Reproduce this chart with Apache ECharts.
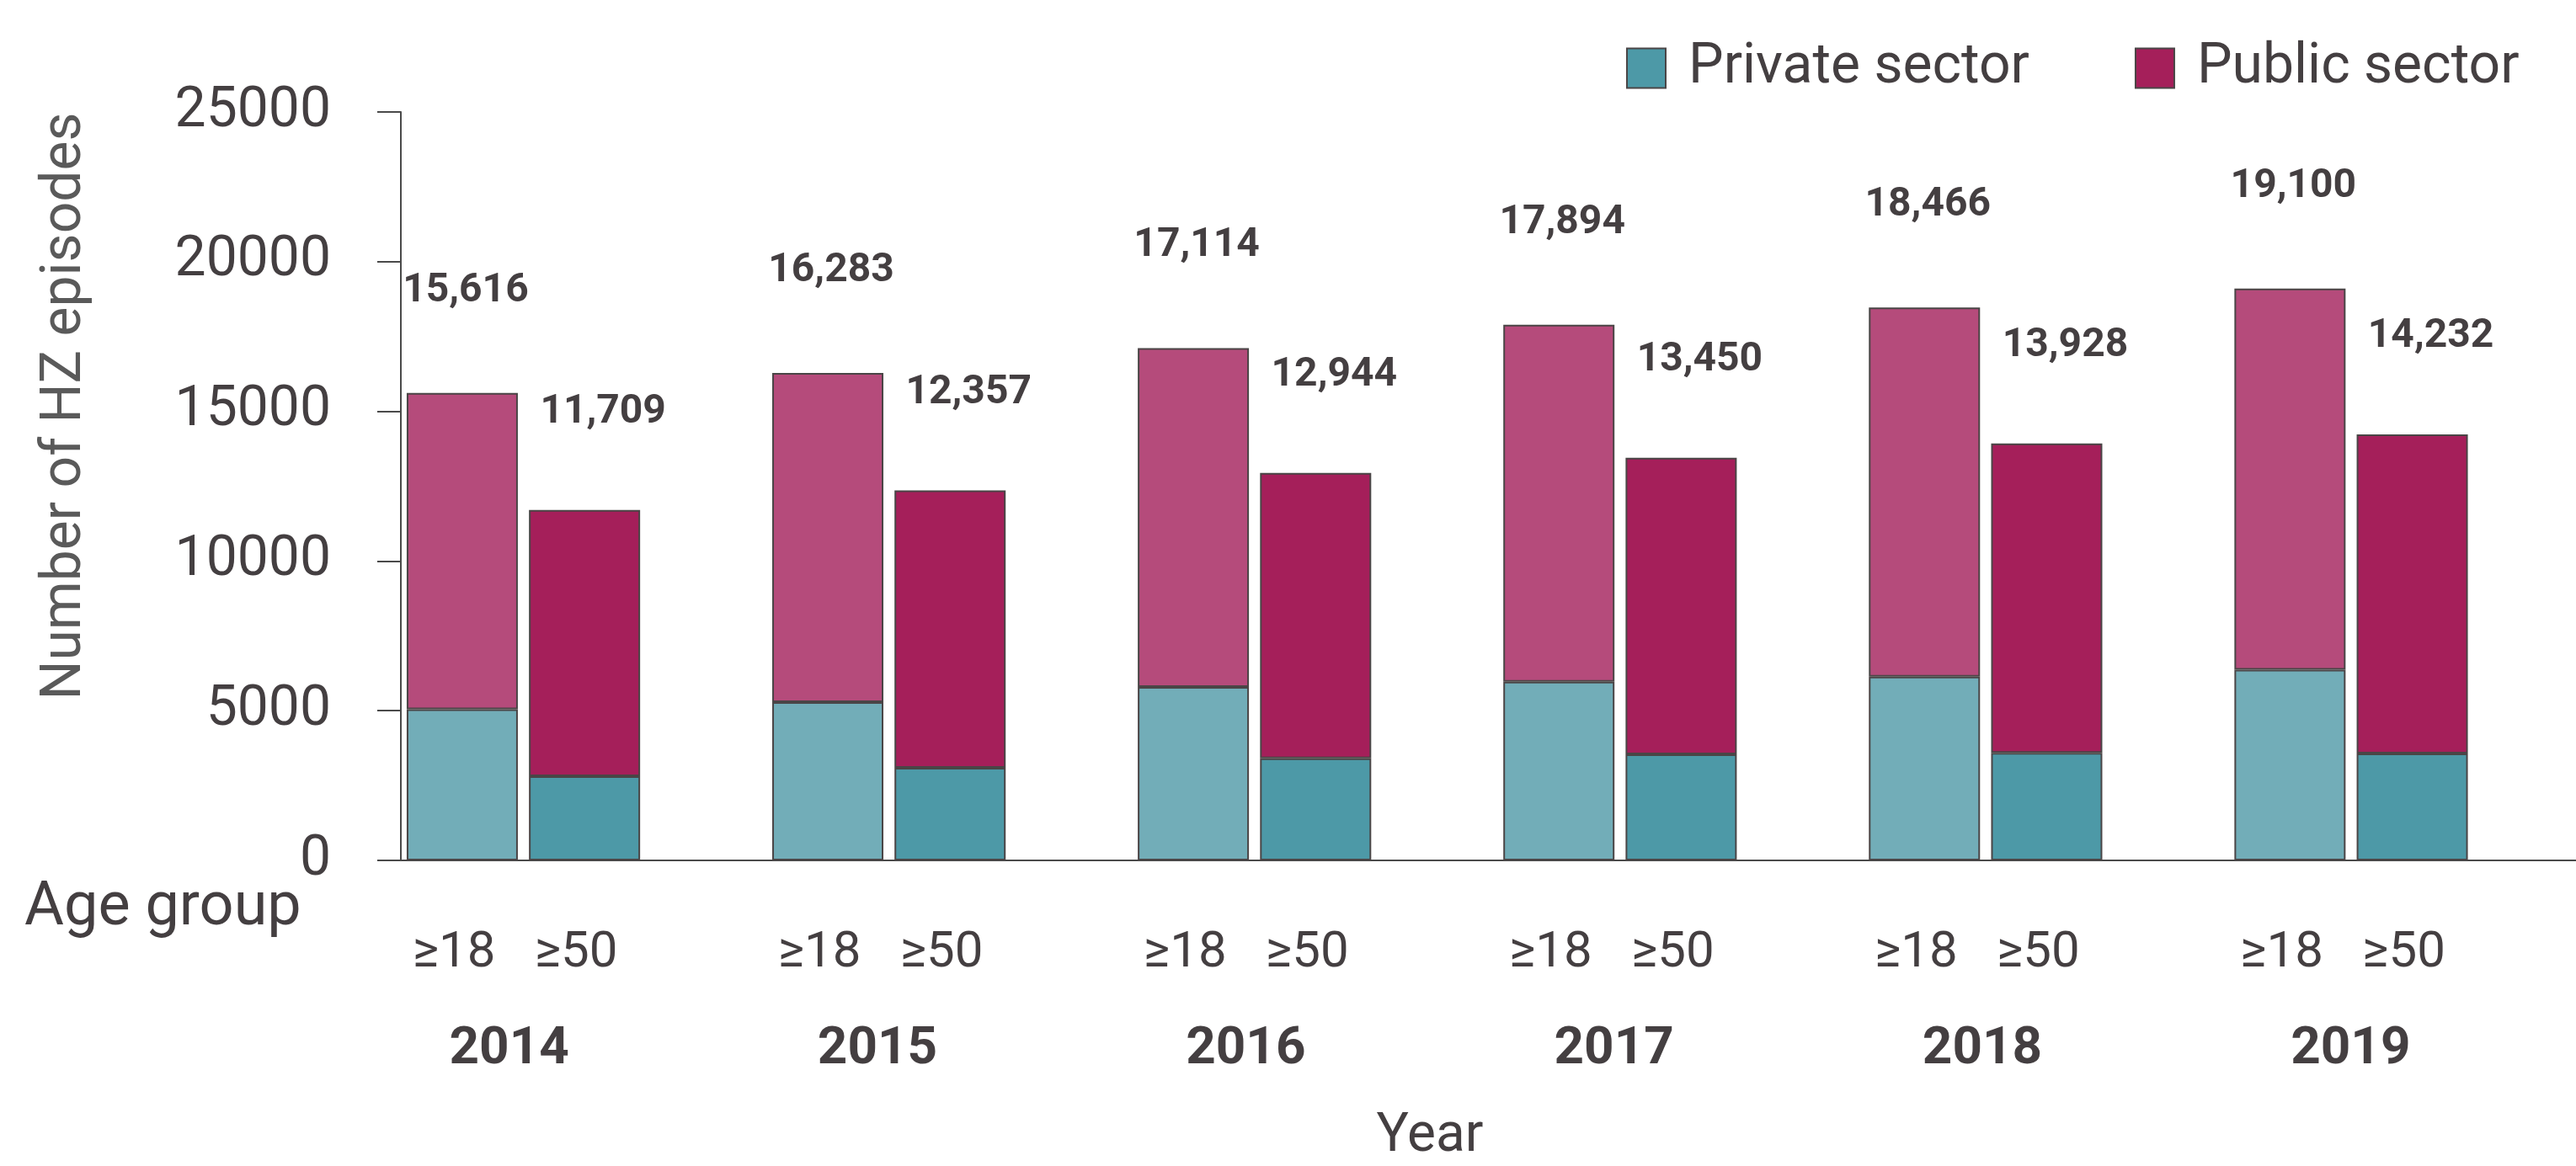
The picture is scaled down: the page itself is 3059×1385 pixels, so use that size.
<!DOCTYPE html>
<html><head><meta charset="utf-8">
<script src="https://cdn.jsdelivr.net/npm/echarts@6/dist/echarts.min.js"></script>
<style>html,body{margin:0;padding:0;background:#fff}#c{width:3059px;height:1385px}</style>
</head><body><div id="c"></div>
<script>
// ---- data ----
const years = ['2014', '2015', '2016', '2017', '2018', '2019'];
const ageGroups = ['≥18', '≥50'];
const total18 = [15616, 16283, 17114, 17894, 18466, 19100];
const total50 = [11709, 12357, 12944, 13450, 13928, 14232];
const private18 = [5050, 5290, 5790, 5970, 6140, 6370];
const public18 = [10566, 10993, 11324, 11924, 12326, 12730];
const private50 = [2810, 3090, 3410, 3540, 3590, 3570];
const public50 = [8899, 9267, 9534, 9910, 10338, 10662];
const yMin = 0, yMax = 25000, yStep = 5000;

// ---- style ----
const FONT = "Roboto, 'Liberation Sans', sans-serif";
const TXT = '#443f41';
const AX = '#4a4a4a';
const BORDER = '#4a4546';
const fmt = v => v.toLocaleString('en-US');
const TOP = 133, BOTTOM = 363;

const chart = echarts.init(document.getElementById('c'), null, {renderer: 'canvas'});
const hideAxis = {axisLine: {show: false}, axisTick: {show: false}, axisLabel: {show: false}, splitLine: {show: false}};

chart.setOption({
  animation: false,
  backgroundColor: '#ffffff',
  textStyle: {fontFamily: FONT, color: TXT},
  title: [
    {text: 'Age group', left: 29, top: 1044, padding: 0,
     textStyle: {fontFamily: FONT, fontSize: 72, fontWeight: 'normal', color: TXT, lineHeight: 72}},
    {text: 'Year', left: 1698, textAlign: 'center', top: 1319, padding: 0,
     textStyle: {fontFamily: FONT, fontSize: 64, fontWeight: 'normal', color: TXT, lineHeight: 64}}
  ],
  legend: {
    data: ['Private sector', 'Public sector'],
    left: 1926, top: 43, width: 1130, orient: 'horizontal',
    itemWidth: 46, itemHeight: 47, itemGap: 125,
    icon: 'rect', selectedMode: false,
    textStyle: {fontFamily: FONT, fontSize: 66, lineHeight: 66, color: TXT, padding: [0, 0, 0, 22]}
  },
  grid: [
    {left: 404.5, right: 50, top: TOP, bottom: BOTTOM},   // bars
    {left: 476, right: 0, top: TOP, bottom: BOTTOM},      // visible axes
    {left: 386, right: 49, top: TOP, bottom: BOTTOM},     // year labels
    {left: 476, width: 10, top: 150, bottom: 570}         // y axis title
  ],
  xAxis: [
    {gridIndex: 0, type: 'category', data: years,
     axisLine: {show: false}, axisTick: {show: false}, splitLine: {show: false},
     axisLabel: {
       margin: 79, interval: 0,
       formatter: () => ageGroups.map(g => '{s|' + g + '}').join('') + '{e| }',
       rich: {
         s: {width: 145, align: 'center', fontFamily: FONT, fontSize: 60, lineHeight: 64, color: TXT},
         e: {width: 20, fontSize: 60, lineHeight: 64}
       }
     }},
    {gridIndex: 1, type: 'value', min: 0, max: 1,
     axisLine: {show: true, lineStyle: {color: AX, width: 2}},
     axisTick: {show: false}, axisLabel: {show: false}, splitLine: {show: false}},
    {gridIndex: 2, type: 'category', data: years,
     axisLine: {show: false}, axisTick: {show: false}, splitLine: {show: false},
     axisLabel: {margin: 193, interval: 0, fontFamily: FONT, fontSize: 62, fontWeight: 'bold',
                 lineHeight: 64, color: TXT}},
    Object.assign({gridIndex: 3, type: 'value', min: 0, max: 1}, hideAxis)
  ],
  yAxis: [
    Object.assign({gridIndex: 0, type: 'value', min: yMin, max: yMax, interval: yStep}, hideAxis),
    {gridIndex: 1, type: 'value', min: yMin, max: yMax, interval: yStep,
     axisLine: {show: true, lineStyle: {color: AX, width: 2}},
     axisTick: {show: true, inside: false, length: 28, lineStyle: {color: AX, width: 2}},
     axisLabel: {margin: 83, fontFamily: FONT, fontSize: 66, color: TXT, formatter: v => String(v)},
     splitLine: {show: false}},
    Object.assign({gridIndex: 2, type: 'value', min: yMin, max: yMax}, hideAxis),
    Object.assign({gridIndex: 3, type: 'value', min: 0, max: 1,
      name: 'Number of HZ episodes', nameLocation: 'middle', nameRotate: 90, nameGap: 364,
      nameTextStyle: {fontFamily: FONT, fontSize: 66, color: '#5a5a5a', lineHeight: 68}}, hideAxis)
  ],
  series: [
    {name: 'Private sector ≥18', type: 'bar', stack: 'a18', xAxisIndex: 0, yAxisIndex: 0,
     barWidth: 132, barGap: '10%', data: private18,
     itemStyle: {color: '#72adb8', borderColor: BORDER, borderWidth: 2}},
    {name: 'Public sector ≥18', type: 'bar', stack: 'a18', xAxisIndex: 0, yAxisIndex: 0,
     barWidth: 132, barGap: '10%', data: public18,
     itemStyle: {color: '#b54b7b', borderColor: BORDER, borderWidth: 2},
     label: {show: true, position: 'top', distance: 97, offset: [4, 0],
             fontFamily: FONT, fontSize: 48, lineHeight: 48, fontWeight: 'bold', color: TXT,
             formatter: p => fmt(total18[p.dataIndex])}},
    {name: 'Private sector', type: 'bar', stack: 'a50', xAxisIndex: 0, yAxisIndex: 0,
     barWidth: 132, barGap: '10%', data: private50,
     itemStyle: {color: '#4d99a7', borderColor: BORDER, borderWidth: 2}},
    {name: 'Public sector', type: 'bar', stack: 'a50', xAxisIndex: 0, yAxisIndex: 0,
     barWidth: 132, barGap: '10%', data: public50,
     itemStyle: {color: '#a51f5a', borderColor: BORDER, borderWidth: 2},
     label: {show: true, position: 'top', distance: 92, offset: [22, 0],
             fontFamily: FONT, fontSize: 48, lineHeight: 48, fontWeight: 'bold', color: TXT,
             formatter: p => fmt(total50[p.dataIndex])}}
  ]
});
</script>
</body></html>
